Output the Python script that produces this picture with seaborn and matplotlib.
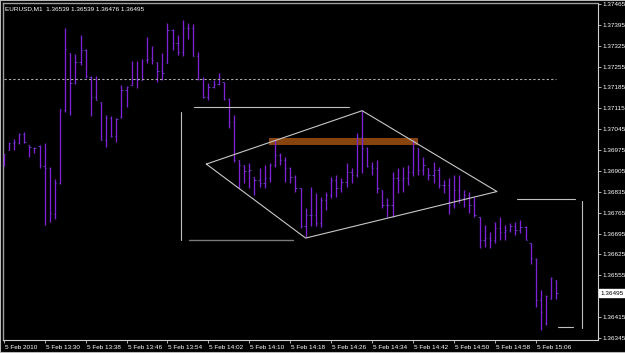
import matplotlib
matplotlib.use("Agg")
import matplotlib.pyplot as plt
import matplotlib.transforms as mtransforms
from matplotlib.patches import Rectangle
import seaborn as sns
import pandas as pd

# ---------------- data ----------------
symbol_title = "EURUSD,M1  1.36539 1.36539 1.36476 1.36495"

open_ = [
1.36931, 1.36975, 1.36998, 1.36998, 1.37029, 1.36992, 1.36982, 1.36988, 1.36921, 1.36915,
1.36760, 1.36864, 1.37109, 1.37300, 1.37200, 1.37270, 1.37310, 1.37220, 1.37153, 1.37136,
1.37009, 1.37082, 1.37022, 1.37086, 1.37176, 1.37193, 1.37213, 1.37210, 1.37277, 1.37284,
1.37270, 1.37240, 1.37267, 1.37377, 1.37334, 1.37304, 1.37384, 1.37384, 1.37290, 1.37213,
1.37153, 1.37186, 1.37196, 1.37203, 1.37146, 1.37069, 1.36941, 1.36925, 1.36905, 1.36885,
1.36874, 1.36864, 1.36881, 1.36925, 1.36958, 1.36941, 1.36915, 1.36885, 1.36848, 1.36720,
1.36757, 1.36757, 1.36730, 1.36807, 1.36824, 1.36874, 1.36848, 1.36868, 1.36901, 1.36891,
1.37019, 1.36982, 1.36921, 1.36915, 1.36841, 1.36791, 1.36791, 1.36881, 1.36874, 1.36881,
1.36901, 1.36982, 1.36908, 1.36915, 1.36891, 1.36908, 1.36858, 1.36858, 1.36791, 1.36841,
1.36814, 1.36824, 1.36791, 1.36750, 1.36673, 1.36680, 1.36673, 1.36714, 1.36700, 1.36707,
1.36720, 1.36707, 1.36717, 1.36663, 1.36610, 1.36472, 1.36395, 1.36475, 1.36539]

high = [
1.36962, 1.37002, 1.37012, 1.37032, 1.37035, 1.36992, 1.36985, 1.36992, 1.36998, 1.36918,
1.36878, 1.37113, 1.37384, 1.37300, 1.37297, 1.37361, 1.37314, 1.37223, 1.37223, 1.37136,
1.37092, 1.37089, 1.37082, 1.37193, 1.37190, 1.37273, 1.37273, 1.37280, 1.37354, 1.37324,
1.37270, 1.37300, 1.37401, 1.37381, 1.37361, 1.37411, 1.37401, 1.37398, 1.37304, 1.37220,
1.37200, 1.37210, 1.37233, 1.37203, 1.37149, 1.37092, 1.36941, 1.36925, 1.36931, 1.36885,
1.36915, 1.36925, 1.36931, 1.37009, 1.36965, 1.36952, 1.36918, 1.36891, 1.36848, 1.36781,
1.36851, 1.36831, 1.36817, 1.36834, 1.36885, 1.36891, 1.36881, 1.36931, 1.36915, 1.37032,
1.37109, 1.36985, 1.36935, 1.36941, 1.36841, 1.36814, 1.36901, 1.36915, 1.36918, 1.36925,
1.37009, 1.36982, 1.36952, 1.36915, 1.36935, 1.36918, 1.36874, 1.36881, 1.36891, 1.36891,
1.36841, 1.36834, 1.36817, 1.36750, 1.36724, 1.36700, 1.36734, 1.36750, 1.36724, 1.36730,
1.36734, 1.36740, 1.36720, 1.36663, 1.36613, 1.36506, 1.36489, 1.36549, 1.36539]

low = [
1.36921, 1.36975, 1.36975, 1.36995, 1.36998, 1.36952, 1.36965, 1.36915, 1.36724, 1.36734,
1.36744, 1.36861, 1.37102, 1.37092, 1.37196, 1.37260, 1.37216, 1.37089, 1.37143, 1.37009,
1.36985, 1.37019, 1.37002, 1.37082, 1.37119, 1.37193, 1.37183, 1.37210, 1.37267, 1.37263,
1.37203, 1.37210, 1.37267, 1.37310, 1.37294, 1.37290, 1.37347, 1.37290, 1.37210, 1.37149,
1.37143, 1.37183, 1.37193, 1.37143, 1.37049, 1.36935, 1.36848, 1.36864, 1.36848, 1.36824,
1.36851, 1.36848, 1.36868, 1.36918, 1.36925, 1.36868, 1.36864, 1.36834, 1.36714, 1.36683,
1.36720, 1.36720, 1.36717, 1.36774, 1.36814, 1.36817, 1.36834, 1.36851, 1.36864, 1.36885,
1.36898, 1.36918, 1.36891, 1.36831, 1.36781, 1.36750, 1.36750, 1.36831, 1.36834, 1.36858,
1.36888, 1.36891, 1.36891, 1.36874, 1.36864, 1.36848, 1.36831, 1.36760, 1.36781, 1.36797,
1.36784, 1.36764, 1.36750, 1.36646, 1.36650, 1.36646, 1.36663, 1.36673, 1.36673, 1.36700,
1.36690, 1.36697, 1.36673, 1.36593, 1.36449, 1.36372, 1.36388, 1.36475, 1.36476]

close = [
1.36962, 1.36998, 1.37002, 1.37029, 1.37002, 1.36985, 1.36982, 1.36925, 1.36915, 1.36764,
1.36864, 1.37113, 1.37314, 1.37200, 1.37270, 1.37310, 1.37223, 1.37153, 1.37143, 1.37009,
1.37082, 1.37022, 1.37079, 1.37176, 1.37186, 1.37213, 1.37210, 1.37213, 1.37280, 1.37277,
1.37240, 1.37233, 1.37377, 1.37334, 1.37304, 1.37384, 1.37384, 1.37290, 1.37213, 1.37153,
1.37186, 1.37196, 1.37220, 1.37146, 1.37069, 1.36941, 1.36925, 1.36905, 1.36908, 1.36874,
1.36864, 1.36881, 1.36925, 1.36958, 1.36941, 1.36915, 1.36885, 1.36848, 1.36720, 1.36757,
1.36757, 1.36730, 1.36807, 1.36824, 1.36874, 1.36848, 1.36868, 1.36901, 1.36891, 1.37019,
1.36982, 1.36921, 1.36915, 1.36848, 1.36791, 1.36791, 1.36881, 1.36874, 1.36881, 1.36901,
1.36982, 1.36908, 1.36925, 1.36891, 1.36908, 1.36858, 1.36858, 1.36791, 1.36841, 1.36814,
1.36824, 1.36791, 1.36757, 1.36673, 1.36680, 1.36673, 1.36714, 1.36700, 1.36707, 1.36720,
1.36707, 1.36717, 1.36673, 1.36613, 1.36472, 1.36432, 1.36486, 1.36546, 1.36495]

x_tick_bars = [0, 8, 16, 24, 32, 40, 48, 56, 64, 72, 80, 88, 96, 104]
x_tick_labels = ["5 Feb 2010", "5 Feb 13:30", "5 Feb 13:38", "5 Feb 13:46", "5 Feb 13:54",
                 "5 Feb 14:02", "5 Feb 14:10", "5 Feb 14:18", "5 Feb 14:26", "5 Feb 14:34",
                 "5 Feb 14:42", "5 Feb 14:50", "5 Feb 14:58", "5 Feb 15:06"]
y_tick_values = [1.37465, 1.37395, 1.37325, 1.37255, 1.37185, 1.37115, 1.37045, 1.36975,
                 1.36905, 1.36835, 1.36765, 1.36695, 1.36625, 1.36555, 1.36415, 1.36345]
last_price = 1.36495

# drawn objects (bar index, price)
dashed_level = 1.37212
diamond_x = [39.6, 70.05, 96.4, 59.0, 39.6]
diamond_y = [1.36928, 1.37107, 1.36836, 1.36680, 1.36928]
band_x = [51.8, 80.9]
band_y = [1.36992, 1.37014]
seg_x0 = [37.2, 34.6, 100.4, 113.0, 108.4]
seg_x1 = [67.5, 34.6, 111.6, 113.0, 111.3]
seg_y0 = [1.37118, 1.36673, 1.36810, 1.36377, 1.36381]
seg_y1 = [1.37118, 1.37103, 1.36810, 1.36805, 1.36381]
dark_seg = dict(x0=36.2, x1=56.5, y=1.36673)

# ---------------- figure ----------------
sns.set_theme(style="dark")
plt.rcParams["font.family"] = ["Liberation Sans", "DejaVu Sans"]

W, H = 625, 353
fig = plt.figure(figsize=(W / 100, H / 100), dpi=100, facecolor="black")
ax = fig.add_axes([2.5 / W, 1 - 339.5 / H, (598 - 2.5) / W, (339.5 - 3) / H])
ax.set_facecolor("black")

df = pd.DataFrame({"open": open_, "high": high, "low": low, "close": close})
df["bar"] = range(len(df))

bar_col = "#7e22d6"
tick_col = "#6a48d0"
ax.vlines(df["bar"], df["low"], df["high"], color=bar_col, lw=0.95, zorder=3)
ax.hlines(df["open"], df["bar"] - 0.25, df["bar"], color=tick_col, lw=0.6, zorder=3)
ax.hlines(df["close"], df["bar"], df["bar"] + 0.25, color=tick_col, lw=0.6, zorder=3)

# orange band
ax.add_patch(Rectangle((band_x[0], band_y[0]), band_x[1] - band_x[0], band_y[1] - band_y[0],
                       facecolor="#87440f", edgecolor="none", zorder=2))

# dashed level line
lvl = pd.DataFrame({"x": [0, len(df) - 1], "y": [dashed_level, dashed_level]})
sns.lineplot(data=lvl, x="x", y="y", ax=ax, color="#b0b0b0", lw=0.8,
             linestyle=(0, (2, 2)), sort=False, estimator=None, zorder=4)

# diamond
dia = pd.DataFrame({"x": diamond_x, "y": diamond_y})
sns.lineplot(data=dia, x="x", y="y", ax=ax, color="#c8c8c8", lw=0.8,
             sort=False, estimator=None, zorder=4)

# other segments
for a, b, c, d in zip(seg_x0, seg_x1, seg_y0, seg_y1):
    ax.plot([a, b], [c, d], color="#c0c0c0", lw=0.8, zorder=4)
ax.plot([dark_seg["x0"], dark_seg["x1"]], [dark_seg["y"], dark_seg["y"]],
        color="#7a7a7a", lw=1.0, zorder=4)

ax.set_xlim(-0.25, 116.15)
ax.set_ylim(1.36340, 1.37468)
ax.set_xlabel("")
ax.set_ylabel("")
ax.grid(False)

# axes ticks
ax.yaxis.tick_right()
ax.set_yticks(y_tick_values)
ax.set_yticklabels([f"{v:.5f}" for v in y_tick_values])
ax.set_xticks(x_tick_bars)
ax.set_xticklabels(x_tick_labels)
ax.tick_params(axis="both", colors="#d0d0d0", labelcolor="white", labelsize=4.6,
               length=2.2, width=0.6, direction="out")
ax.tick_params(axis="y", pad=1.2, left=False, right=True)
ax.tick_params(axis="x", pad=1.6, bottom=True)
for lab in ax.get_xticklabels():
    lab.set_horizontalalignment("left")
offset = mtransforms.ScaledTranslation(1 / 100, 0, fig.dpi_scale_trans)
for lab in ax.get_xticklabels():
    lab.set_transform(lab.get_transform() + offset)

for side in ["left", "top"]:
    ax.spines[side].set_color("#a0a0a0")
    ax.spines[side].set_linewidth(1.0)
for side in ["right", "bottom"]:
    ax.spines[side].set_color("#d0d0d0")
    ax.spines[side].set_linewidth(0.8)

# last price box
trans = mtransforms.blended_transform_factory(ax.transAxes, ax.transData)
ax.text(1.004, last_price, f"{last_price:.5f}", transform=trans, ha="left", va="center",
        fontsize=4.6, color="black", zorder=6,
        bbox=dict(boxstyle="square,pad=0.25", facecolor="white", edgecolor="white"))

# title
fig.text(5 / W, 1 - 9 / H, symbol_title, color="white", fontsize=4.6, ha="left", va="center")

# window frame (left, top, bottom edges)
for (x0, y0, x1, y1) in [(0, 0, 0, 1), (0, 1, 1, 1), (0, 0, 1, 0)]:
    fig.add_artist(plt.Line2D([x0, x1], [y0, y1], transform=fig.transFigure,
                              color="#b8b8b8", lw=1.5))

fig.savefig("out.png", dpi=100, facecolor="black")
